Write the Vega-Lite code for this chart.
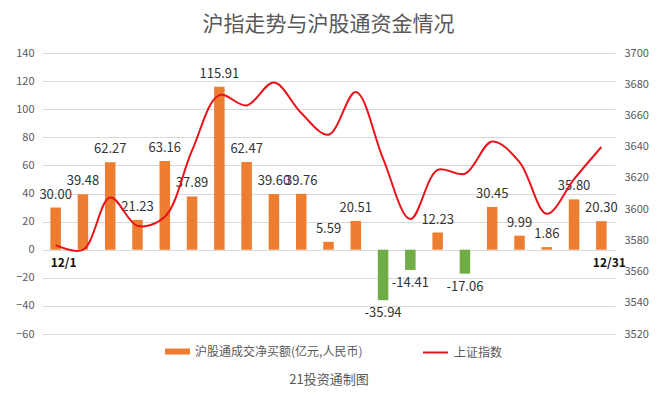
{
  "$schema": "https://vega.github.io/schema/vega-lite/v6.json",
  "width": 573,
  "height": 281,
  "autosize": {"type": "none"},
  "padding": {"left": 42, "top": 53, "right": 43, "bottom": 64},
  "background": "white",
  "title": {
    "text": "沪指走势与沪股通资金情况",
    "fontSize": 21,
    "font": "Noto Sans CJK SC",
    "fontWeight": "normal",
    "color": "#595959",
    "anchor": "middle",
    "offset": 12
  },
  "config": {
    "view": {"stroke": null},
    "font": "Noto Sans CJK SC",
    "axisY": {
      "labelOverlap": false,
      "title": null,
      "domain": false,
      "ticks": false,
      "labelFontSize": 11,
      "labelColor": "#595959",
      "gridColor": "#d9d9d9",
      "gridWidth": 1
    }
  },
  "data": {
    "values": [
      {"date": "12/1", "net": 30.00, "idx": 3576.89, "lab": "12/1"},
      {"date": "12/2", "net": 39.48, "idx": 3573.84, "lab": ""},
      {"date": "12/3", "net": 62.27, "idx": 3607.43, "lab": ""},
      {"date": "12/6", "net": 21.23, "idx": 3589.31, "lab": ""},
      {"date": "12/7", "net": 63.16, "idx": 3595.09, "lab": ""},
      {"date": "12/8", "net": 37.89, "idx": 3637.57, "lab": ""},
      {"date": "12/9", "net": 115.91, "idx": 3673.04, "lab": ""},
      {"date": "12/10", "net": 62.47, "idx": 3666.35, "lab": ""},
      {"date": "12/13", "net": 39.60, "idx": 3681.08, "lab": ""},
      {"date": "12/14", "net": 39.76, "idx": 3661.53, "lab": ""},
      {"date": "12/15", "net": 5.59, "idx": 3647.63, "lab": ""},
      {"date": "12/16", "net": 20.51, "idx": 3675.02, "lab": ""},
      {"date": "12/17", "net": -35.94, "idx": 3632.36, "lab": ""},
      {"date": "12/20", "net": -14.41, "idx": 3593.60, "lab": ""},
      {"date": "12/21", "net": 12.23, "idx": 3625.13, "lab": ""},
      {"date": "12/22", "net": -17.06, "idx": 3622.62, "lab": ""},
      {"date": "12/23", "net": 30.45, "idx": 3643.34, "lab": ""},
      {"date": "12/28", "net": 9.99, "idx": 3630.11, "lab": ""},
      {"date": "12/29", "net": 1.86, "idx": 3597.00, "lab": ""},
      {"date": "12/30", "net": 35.80, "idx": 3619.19, "lab": ""},
      {"date": "12/31", "net": 20.30, "idx": 3639.78, "lab": "12/31"}
    ]
  },
  "encoding": {
    "x": {
      "field": "date",
      "type": "ordinal",
      "sort": null,
      "scale": {"paddingInner": 0.615, "paddingOuter": 0.3075},
      "axis": {
        "labels": false,
        "ticks": false,
        "domain": false,
        "grid": false,
        "title": "21投资通制图",
        "titleFontSize": 13,
        "titleFontWeight": "normal",
        "titleColor": "#595959",
        "titlePadding": 39
      }
    }
  },
  "layer": [
    {
      "layer": [
        {
          "mark": {"type": "bar"},
          "encoding": {
            "y": {
              "field": "net",
              "type": "quantitative",
              "scale": {"domain": [-60, 140], "nice": false},
              "axis": {
                "values": [-60, -40, -20, 0, 20, 40, 60, 80, 100, 120, 140],
                "labelPadding": 8,
                "grid": true
              }
            },
            "fill": {
              "condition": {"test": "datum.net < 0", "value": "#70AD47"},
              "datum": "沪股通成交净买额(亿元,人民币)",
              "scale": {"range": ["#ED7D31"]},
              "legend": {
                "orient": "none",
                "legendX": 123,
                "legendY": 286,
                "title": null,
                "symbolType": "M-1,-0.24H1V0.24H-1Z",
                "symbolSize": 625,
                "symbolStrokeWidth": 0,
                "labelFontSize": 12,
                "labelColor": "#595959",
                "labelOffset": 5,
                "labelLimit": 400
              }
            }
          }
        },
        {
          "mark": {"type": "text", "baseline": "bottom", "dy": -6, "fontSize": 13, "color": "#333333"},
          "transform": [
            {"filter": "datum.net >= 0"},
            {"calculate": "format(datum.net, '.2f')", "as": "txt"}
          ],
          "encoding": {
            "y": {
              "field": "net",
              "type": "quantitative",
              "axis": {"values": [-60, -40, -20, 0, 20, 40, 60, 80, 100, 120, 140], "labelPadding": 8, "grid": true}
            },
            "text": {"field": "txt"}
          }
        },
        {
          "mark": {"type": "text", "baseline": "top", "dy": 7, "fontSize": 13, "color": "#333333"},
          "transform": [
            {"filter": "datum.net < 0"},
            {"calculate": "'-' + format(-datum.net, '.2f')", "as": "txt"}
          ],
          "encoding": {
            "y": {
              "field": "net",
              "type": "quantitative",
              "axis": {"values": [-60, -40, -20, 0, 20, 40, 60, 80, 100, 120, 140], "labelPadding": 8, "grid": true}
            },
            "text": {"field": "txt"}
          }
        },
        {
          "mark": {"type": "text", "baseline": "middle", "dy": 13, "dx": 8, "fontSize": 12, "fontWeight": "bold", "color": "#111111"},
          "transform": [{"filter": "datum.lab != ''"}],
          "encoding": {
            "y": {
              "datum": 0,
              "type": "quantitative",
              "axis": {"values": [-60, -40, -20, 0, 20, 40, 60, 80, 100, 120, 140], "labelPadding": 8, "grid": true}
            },
            "text": {"field": "lab"}
          }
        }
      ]
    },
    {
      "mark": {"type": "line", "interpolate": "catmull-rom", "strokeWidth": 2},
      "encoding": {
        "y": {
          "field": "idx",
          "type": "quantitative",
          "scale": {"domain": [3520, 3700], "nice": false, "zero": false},
          "axis": {
            "orient": "right",
            "values": [3520, 3540, 3560, 3580, 3600, 3620, 3640, 3660, 3680, 3700],
            "format": "d",
            "grid": false,
            "labelPadding": 9
          }
        },
        "stroke": {
          "datum": "上证指数",
          "scale": {"range": ["#E8141B"]},
          "legend": {
            "orient": "none",
            "legendX": 380,
            "legendY": 286,
            "title": null,
            "symbolType": "stroke",
            "symbolSize": 625,
            "symbolStrokeWidth": 2,
            "labelFontSize": 12,
            "labelColor": "#595959",
            "labelOffset": 5
          }
        }
      }
    }
  ],
  "resolve": {"scale": {"y": "independent"}}
}
